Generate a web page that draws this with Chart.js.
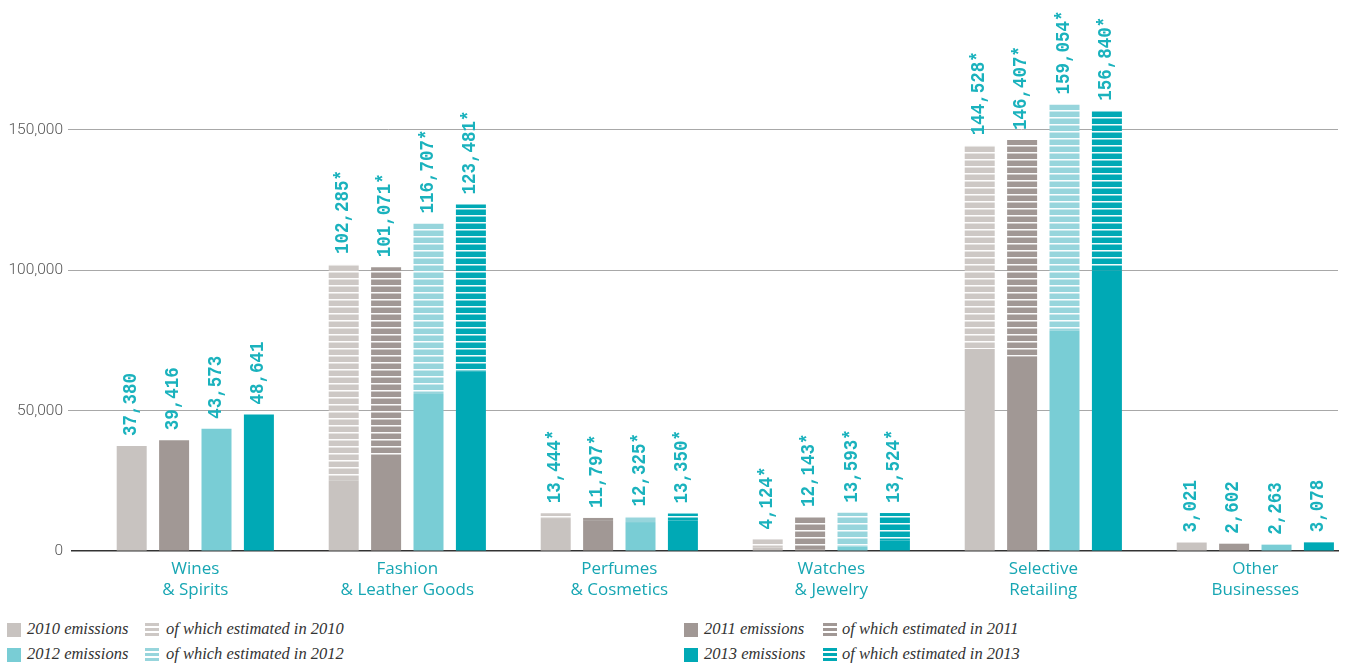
<!DOCTYPE html>
<html>
<head>
<meta charset="utf-8">
<script src="https://cdn.jsdelivr.net/npm/chart.js@4.4.1/dist/chart.umd.min.js"></script>
<style>
  html, body { margin: 0; padding: 0; background: #fff; overflow: hidden; }
  #wrap { position: relative; width: 1345px; height: 667px; }
  #box { position: absolute; left: 0; top: 0; width: 1345px; height: 610px; }
  .legend { position: absolute; font-family: "Liberation Serif", serif; font-style: italic;
            font-size: 16.5px; color: #333; white-space: nowrap; }
  .item { position: absolute; height: 14px; line-height: 14px; }
  .sw { position: absolute; left: 0; top: 0; width: 14px; height: 14px; }
  .item span { position: absolute; top: -1px; }
</style>
</head>
<body>
<div id="wrap">
  <div id="box"><canvas id="chart"></canvas></div>
  <div class="legend" id="legend"></div>
</div>
<script>
// Emissions per business group, one bar per year.
const categories = [
  ['Wines', '& Spirits'],
  ['Fashion', '& Leather Goods'],
  ['Perfumes', '& Cosmetics'],
  ['Watches', '& Jewelry'],
  ['Selective', 'Retailing'],
  ['Other', 'Businesses']
];
const years = ['2010', '2011', '2012', '2013'];

// Total emissions (as labelled above each bar)
const total2010 = [37380, 102285, 13444, 4124, 144528, 3021];
const total2011 = [39416, 101071, 11797, 12143, 146407, 2602];
const total2012 = [43573, 116707, 12325, 13593, 159054, 2263];
const total2013 = [48641, 123481, 13350, 13524, 156840, 3078];

// Measured part of each total; the remainder is the estimated part
const measured2010 = [37380, 25000, 11400, 1200, 72000, 3021];
const measured2011 = [39416, 32400, 11000, 600, 69300, 2602];
const measured2012 = [43573, 55900, 10300, 1500, 78500, 2263];
const measured2013 = [48641, 63900, 10900, 3800, 100000, 3078];

const yTicks = [0, 50000, 100000, 150000];

const totals = [total2010, total2011, total2012, total2013];
const measured = [measured2010, measured2011, measured2012, measured2013];

const solidColors = ['#c8c3c0', '#a19895', '#79cdd5', '#00a9b5'];
const stripeColors = ['#cdc8c5', '#a19895', '#97d5dc', '#00a9b5'];
const labelColor = '#1ab2bd';
const categoryColor = '#17a6b3';

function stripePattern(color) {
  const c = document.createElement('canvas');
  c.width = 8; c.height = 7;
  const g = c.getContext('2d');
  g.fillStyle = color; g.fillRect(0, 0, 8, 7);
  g.fillStyle = 'rgba(255,255,255,0.95)'; g.fillRect(0, 5, 8, 1);
  g.fillStyle = 'rgba(255,255,255,0.5)'; g.fillRect(0, 6, 8, 1);
  return g.createPattern(c, 'repeat');
}

const datasets = [];
years.forEach((yr, k) => {
  datasets.push({
    label: yr + ' emissions',
    stack: yr,
    data: categories.map((_, i) => ({ x: i, y: measured[k][i] })),
    backgroundColor: solidColors[k],
    borderWidth: 0
  });
  datasets.push({
    label: 'of which estimated in ' + yr,
    stack: yr,
    data: categories.map((_, i) => ({ x: i, y: totals[k][i] - measured[k][i] })),
    backgroundColor: stripePattern(stripeColors[k]),
    borderWidth: 0
  });
});

// Rotated total above each bar; an asterisk marks totals that include estimates
const valueLabels = {
  id: 'valueLabels',
  afterDatasetsDraw(chart) {
    const ctx = chart.ctx;
    const yScale = chart.scales.y;
    ctx.save();
    ctx.fillStyle = labelColor;
    ctx.font = 'bold 17.5px "Liberation Mono", monospace';
    ctx.textAlign = 'left';
    ctx.textBaseline = 'middle';
    years.forEach((yr, k) => {
      const meta = chart.getDatasetMeta(2 * k + 1);
      meta.data.forEach((bar, i) => {
        const t = totals[k][i];
        const star = t > measured[k][i] ? '*' : '';
        const txt = t.toLocaleString('en-US') + star;
        const top = yScale.getPixelForValue(t);
        ctx.save();
        ctx.translate(bar.x - 1, top - 10);
        ctx.rotate(-Math.PI / 2);
        ctx.scale(1, 1.15);
        ctx.fillText(txt, 0, 0);
        ctx.restore();
      });
    });
    ctx.restore();
  }
};

new Chart(document.getElementById('chart'), {
  type: 'bar',
  data: { datasets },
  plugins: [valueLabels],
  options: {
    responsive: true,
    maintainAspectRatio: false,
    animation: false,
    layout: { padding: { left: 0, right: 7, top: 0, bottom: 0 } },
    categoryPercentage: 0.8,
    barPercentage: 0.7075,
    plugins: { legend: { display: false }, tooltip: { enabled: false } },
    scales: {
      x: {
        type: 'linear',
        stacked: true,
        offset: false,
        bounds: 'data',
        min: -0.5816,
        max: 5.39,
        grid: { display: false, drawTicks: false, offset: false },
        border: { display: true, color: '#333', width: 1.5 },
        afterBuildTicks: (s) => { s.ticks = categories.map((_, i) => ({ value: i })); },
        ticks: {
          autoSkip: false,
          maxRotation: 0,
          padding: 8,
          color: categoryColor,
          font: { family: '"Open Sans", sans-serif', size: 17, weight: 500, lineHeight: 1.24 },
          callback: (v) => categories[v]
        },
        afterFit: (s) => { s.height = 59; s.paddingLeft = 0; s.paddingRight = 0; }
      },
      y: {
        stacked: true,
        bounds: 'data',
        min: 0,
        max: 196300,
        grid: {
          color: (c) => c.tick && c.tick.value === 0 ? 'rgba(0,0,0,0)' : '#a8a8a8',
          lineWidth: 1,
          tickLength: 4
        },
        border: { display: false },
        afterBuildTicks: (s) => { s.ticks = yTicks.map((v) => ({ value: v })); },
        ticks: {
          autoSkip: false,
          padding: 5,
          color: '#555',
          font: { family: 'Roboto, sans-serif', size: 15.5, weight: 300 },
          callback: (v) => v.toLocaleString('en-US')
        },
        afterFit: (s) => { s.width = 72; s.paddingTop = 0; s.paddingBottom = 0; }
      }
    }
  }
});

// Legend: two blocks, solid swatch and striped swatch per year
const legendEl = document.getElementById('legend');
const legendSpots = [
  { k: 0, x: 7,   y: 623, tx: 27,  sx: 145, stx: 166 },
  { k: 2, x: 7,   y: 648, tx: 27,  sx: 145, stx: 166 },
  { k: 1, x: 684, y: 623, tx: 704, sx: 823, stx: 842 },
  { k: 3, x: 684, y: 648, tx: 704, sx: 823, stx: 842 }
];
legendSpots.forEach((p) => {
  const a = document.createElement('div');
  a.className = 'item';
  a.style.left = p.x + 'px'; a.style.top = p.y + 'px';
  a.innerHTML = '<div class="sw" style="background:' + solidColors[p.k] + '"></div>';
  legendEl.appendChild(a);
  const at = document.createElement('div');
  at.className = 'item';
  at.style.left = p.tx + 'px'; at.style.top = p.y + 'px';
  at.innerHTML = '<span>' + years[p.k] + ' emissions</span>';
  legendEl.appendChild(at);
  const b = document.createElement('div');
  b.className = 'item';
  b.style.left = p.sx + 'px'; b.style.top = p.y + 'px';
  const c = stripeColors[p.k];
  b.innerHTML = '<div class="sw" style="background: repeating-linear-gradient(to bottom, ' + c +
    ' 0px, ' + c + ' 3px, #fff 3px, #fff 5px);"></div>';
  legendEl.appendChild(b);
  const bt = document.createElement('div');
  bt.className = 'item';
  bt.style.left = p.stx + 'px'; bt.style.top = p.y + 'px';
  bt.innerHTML = '<span>of which estimated in ' + years[p.k] + '</span>';
  legendEl.appendChild(bt);
});
</script>
</body>
</html>
